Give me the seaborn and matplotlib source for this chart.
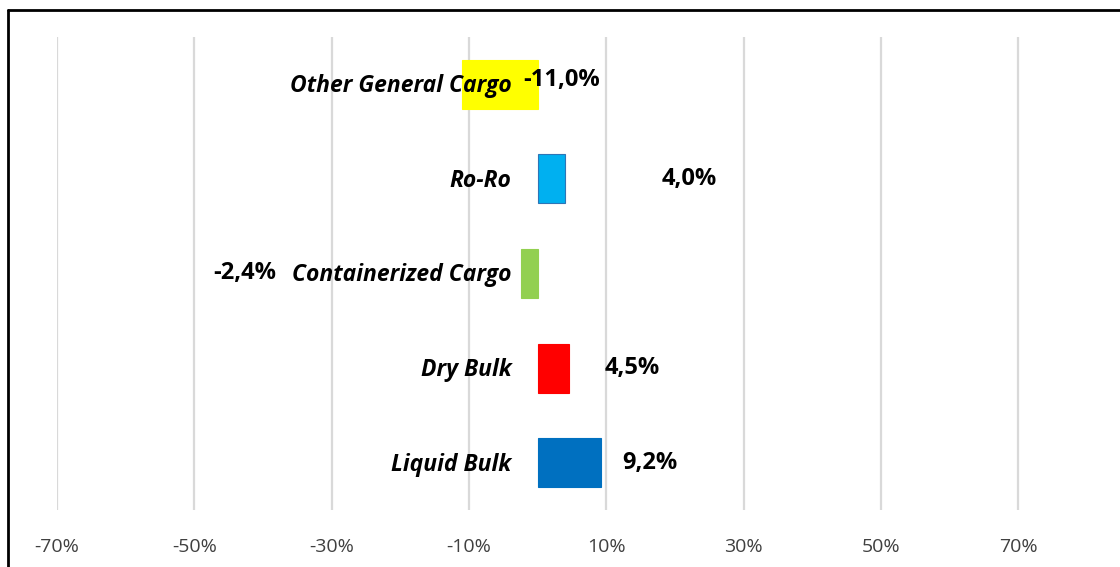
import matplotlib
matplotlib.use("Agg")
import matplotlib.pyplot as plt
from matplotlib.lines import Line2D
from matplotlib.ticker import FuncFormatter
import seaborn as sns

# data
categories = ["Other General Cargo", "Ro-Ro", "Containerized Cargo", "Dry Bulk", "Liquid Bulk"]
values = [-0.110, 0.040, -0.024, 0.045, 0.092]
value_labels = ["-11,0%", "4,0%", "-2,4%", "4,5%", "9,2%"]
bar_colors = ["#FFFF00", "#00B0F0", "#92D050", "#FF0000", "#0070C0"]
label_x = [0.035, 0.221, -0.427, 0.137, 0.163]
tick_values = [-0.7, -0.5, -0.3, -0.1, 0.1, 0.3, 0.5, 0.7]

sns.set_style("white")
plt.rcParams["font.family"] = ["Open Sans", "DejaVu Sans"]

fig = plt.figure(figsize=(11.2, 5.67), dpi=100)
ax = fig.add_axes([57 / 1120, 57 / 567, 1 - 57 / 1120, 473 / 567])

sns.barplot(x=values, y=categories, hue=categories, palette=bar_colors,
            saturation=1, orient="h", width=0.52, legend=False, ax=ax, zorder=3)
for patch, c in zip(ax.patches, bar_colors):
    edge = "#2E75B6" if c == "#00B0F0" else c
    patch.set_edgecolor(edge)
    patch.set_linewidth(0.8)

ax.set_xlim(-0.7, 0.848)
ax.set_ylim(4.5, -0.5)
ax.set_xticks(tick_values)
ax.xaxis.set_major_formatter(FuncFormatter(lambda v, _: f"{v * 100:.0f}%"))
ax.tick_params(axis="x", length=0, pad=20, labelsize=14, labelcolor="#404040")
ax.set_yticks([])
ax.set_xlabel("")
ax.set_ylabel("")
for s in ax.spines.values():
    s.set_visible(False)
for t in tick_values:
    ax.axvline(t, color="#D9D9D9", linewidth=1.6, zorder=1)

for i, (cat, lab, lx) in enumerate(zip(categories, value_labels, label_x)):
    ax.text(-0.038, i + 0.02, cat, ha="right", va="center", fontsize=16.5,
            fontweight="bold", fontstyle="italic", color="black", zorder=4)
    dy = -0.05 if i == 0 else 0
    ax.text(lx, i + dy, lab, ha="center", va="center", fontsize=17,
            fontweight="bold", color="black", zorder=4)

# screenshot frame (top and left edges)
fig.add_artist(Line2D([8 / 1120, 1], [1 - 10 / 567, 1 - 10 / 567],
                      transform=fig.transFigure, color="black", linewidth=2))
fig.add_artist(Line2D([8 / 1120, 8 / 1120], [0, 1 - 10 / 567],
                      transform=fig.transFigure, color="black", linewidth=2))

fig.savefig("out.png", dpi=100)
